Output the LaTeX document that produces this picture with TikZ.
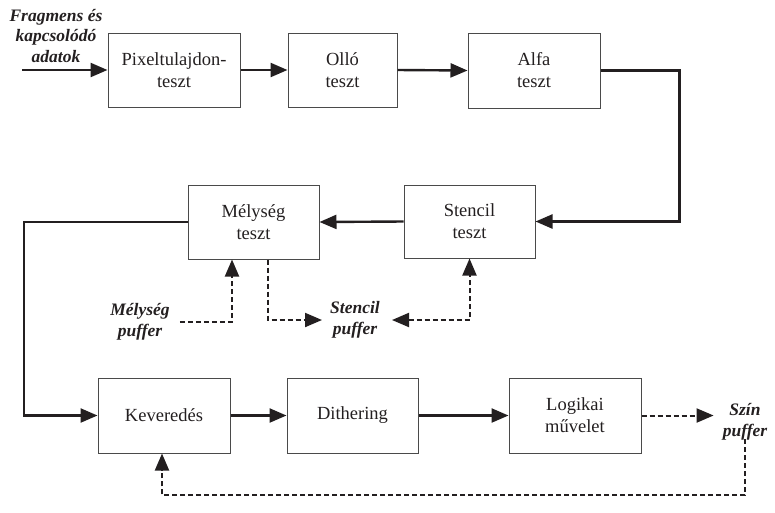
\documentclass[tikz,border=0pt]{standalone}
\usepackage{fontspec}
\setmainfont{Liberation Serif}
\usetikzlibrary{arrows.meta}
\definecolor{ink}{HTML}{231F20}
\definecolor{frame}{HTML}{4A4A4A}
\tikzset{
  tip/.tip={Triangle[length=17pt,width=14pt]},
  stage/.style={draw=frame, line width=1pt, align=center, text=ink,
    inner sep=0pt, font=\fontsize{18.5}{22}\selectfont},
  buflabel/.style={align=center, text=ink, inner sep=3pt,
    font=\fontsize{17.5}{20.5}\selectfont\bfseries\itshape},
  conn/.style={draw=ink, line width=2.4pt, -tip},
  dconn/.style={draw=ink, line width=2pt, dash pattern=on 5pt off 3pt, -tip},
}
\begin{document}
\begin{tikzpicture}[x=1pt,y=-1pt]
\useasboundingbox (0,0) rectangle (775,512);

% first row of stages
\node[stage, minimum width=132pt, minimum height=74pt] (pix) at (174,70) {Pixeltulajdon-\\teszt};
\node[stage, minimum width=109pt, minimum height=74pt] (ollo) at (342.5,70) {Olló\\teszt};
\node[stage, minimum width=132pt, minimum height=75pt] (alfa) at (534,70.5) {Alfa\\teszt};

% second row
\node[stage, minimum width=131pt, minimum height=73pt] (stencil) at (469.5,221.5) {Stencil\\teszt};
\node[stage, minimum width=131pt, minimum height=74pt] (melyseg) at (253.5,222) {Mélység\\teszt};

% third row
\node[stage, minimum width=132pt, minimum height=75pt] (kev) at (164,415.5) {Keveredés};
\node[stage, minimum width=131pt, minimum height=75pt] (dith) at (352.5,415.5) {Dithering};
\node[stage, minimum width=132pt, minimum height=75pt] (logi) at (575,415.5) {Logikai\\művelet};

% buffers and input label
\node[buflabel] (input) at (56,36) {Fragmens és\\kapcsolódó\\adatok};
\node[buflabel] (mpuf) at (140,322) {Mélység\\puffer};
\node[buflabel] (spuf) at (355,320) {Stencil\\puffer};
\node[buflabel] (szin) at (745,422) {Szín\\puffer};

\coordinate (in) at (22,70);

% main data flow
\draw[conn] (in) -- (pix.west);
\draw[conn] (pix.east) -- (ollo.west);
\draw[conn] (ollo.east) -- (alfa.west);
\draw[conn] (alfa.east) -- ++(79,0) |- (stencil.east);
\draw[conn] (stencil.west) -- (melyseg.east);
\draw[conn] (melyseg.west) -- ++(-163.5,0) |- (kev.west);
\draw[conn] (kev.east) -- (dith.west);
\draw[conn] (dith.east) -- (logi.west);

% buffer accesses
\draw[dconn] ([xshift=7pt]mpuf.east) -| ([xshift=-21.5pt]melyseg.south);
\draw[dconn] ([xshift=14.5pt]melyseg.south) |- ([xshift=-5pt]spuf.west);
\draw[dconn, tip-tip] ([xshift=9pt]spuf.east) -| (stencil.south);
\draw[dconn] (logi.east) -- ([xshift=-6pt]szin.west |- logi.east);
\draw[dconn] ([yshift=4pt]szin.south) -- ++(0,56) -| ([xshift=-2pt]kev.south);
\end{tikzpicture}
\end{document}
